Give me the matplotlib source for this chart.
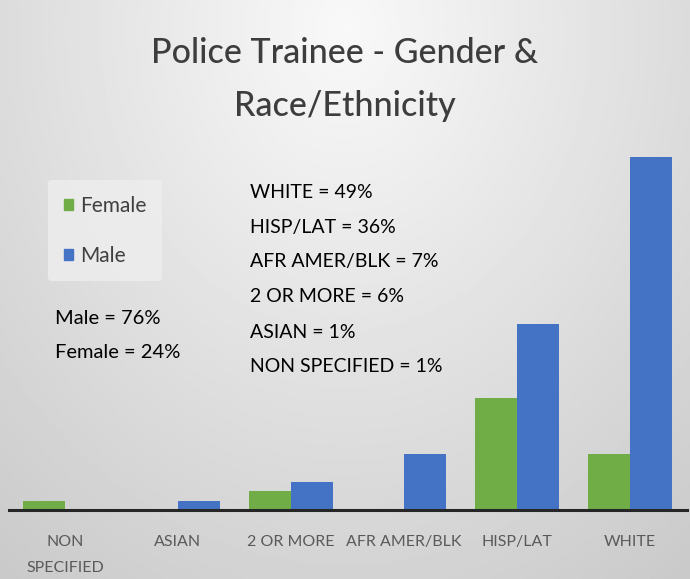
import numpy as np
import matplotlib
matplotlib.use("Agg")
import matplotlib.pyplot as plt
from matplotlib.patches import Patch

plt.rcParams['font.family'] = ['Lato', 'DejaVu Sans']

categories = ["NON\nSPECIFIED", "ASIAN", "2 OR MORE", "AFR AMER/BLK", "HISP/LAT", "WHITE"]
female = [1, 0, 2, 0, 12, 6]
male = [0, 1, 3, 6, 20, 38]
race_notes = ["WHITE = 49%", "HISP/LAT = 36%", "AFR AMER/BLK = 7%",
              "2 OR MORE = 6%", "ASIAN = 1%", "NON SPECIFIED = 1%"]
gender_notes = ["Male = 76%", "Female = 24%"]

green = "#70AD47"
blue = "#4472C4"
grey_text = "#595959"

fig = plt.figure(figsize=(6.9, 5.79), dpi=100)

# background: soft radial gradient, lightest near top centre
bg = fig.add_axes([0, 0, 1, 1], zorder=-10)
yy, xx = np.mgrid[0:1:300j, 0:1:300j]
dist = np.sqrt(((xx - 0.5) / 0.75) ** 2 + ((yy - 0.05) / 1.1) ** 2)
bg.imshow(0.975 - 0.17 * dist, cmap="gray", vmin=0, vmax=1,
          extent=[0, 1, 1, 0], aspect="auto")
bg.set_axis_off()

ax = fig.add_axes([8.5 / 690, 69 / 579, 678 / 690, 372 / 579])
ax.patch.set_alpha(0)
x = np.arange(len(categories))
w = 0.375
ax.bar(x - w / 2, female, w, color=green, label="Female")
ax.bar(x + w / 2, male, w, color=blue, label="Male")
ax.set_xlim(-0.5, len(categories) - 0.5)
ax.set_ylim(0, 40)
ax.set_xticks(x)
ax.set_xticklabels(categories, fontsize=11.5, color=grey_text, linespacing=2.1)
ax.tick_params(axis="x", length=0, pad=18)
ax.set_yticks([])
for s in ["top", "right", "left"]:
    ax.spines[s].set_visible(False)
ax.spines["bottom"].set_color("#262626")
ax.spines["bottom"].set_linewidth(2.2)

fig.text(0.5, 1 - 53 / 579, "Police Trainee - Gender &", ha="center", va="center",
         fontsize=24.5, color="#3d3d3d", fontweight="medium")
fig.text(0.5, 1 - 106 / 579, "Race/Ethnicity", ha="center", va="center",
         fontsize=24.5, color="#3d3d3d", fontweight="medium")

handles = [Patch(color=green), Patch(color=blue)]
fig.legend(handles, ["Female", "Male"], loc="upper left",
           bbox_to_anchor=(48 / 690, 1 - 180 / 579), fontsize=15,
           frameon=True, facecolor="#eeeeee", edgecolor="none", framealpha=0.8,
           handlelength=0.45, handleheight=0.45, handletextpad=0.35,
           labelspacing=1.45, borderpad=0.75, borderaxespad=0,
           labelcolor="#404040")

for i, t in enumerate(race_notes):
    fig.text(250 / 690, 1 - (192 + 35 * i) / 579, t, va="center",
             fontsize=14, color="black")
for i, t in enumerate(gender_notes):
    fig.text(55 / 690, 1 - (318 + 34 * i) / 579, t, va="center",
             fontsize=14.5, color="black")

fig.savefig("out.png", dpi=100)
